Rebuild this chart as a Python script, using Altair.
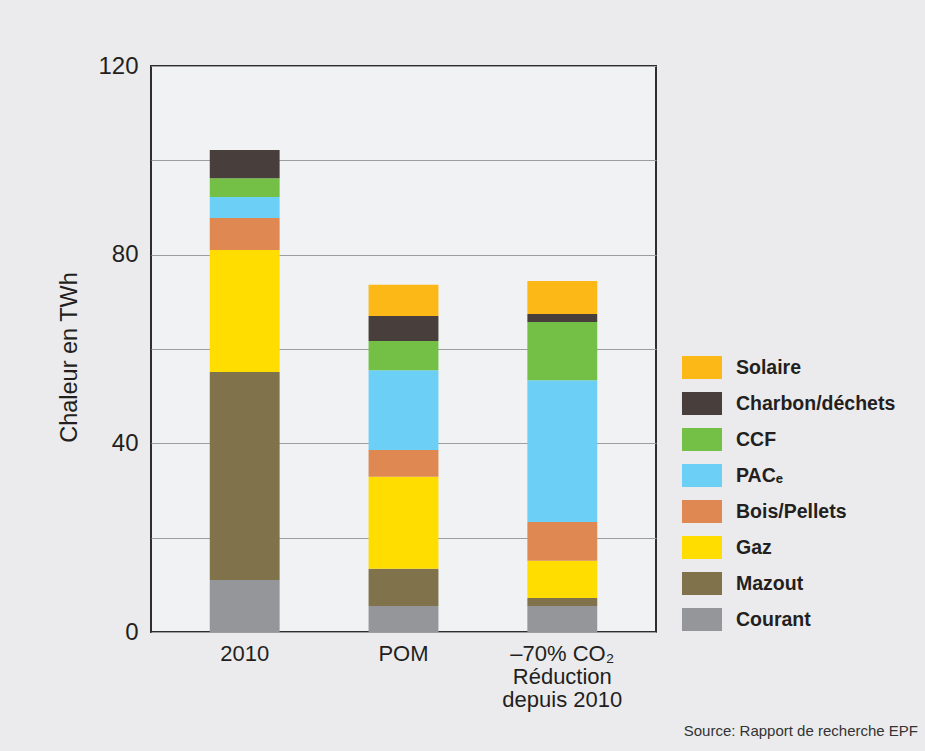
import altair as alt
import pandas as pd

# ---- data ----
categories = ["2010", "POM", "–70% CO₂|Réduction|depuis 2010"]
sources = ["Courant", "Mazout", "Gaz", "Bois/Pellets", "PACₑ", "CCF", "Charbon/déchets", "Solaire"]
colors = ["#95969A", "#80734B", "#FFDD00", "#DF8851", "#6CCFF6", "#74BF46", "#483F3D", "#FBB817"]
values_2010 = [11.0, 44.1, 25.9, 6.8, 4.4, 4.0, 6.0, 0.0]
values_pom = [5.5, 7.9, 19.5, 5.7, 16.9, 6.2, 5.3, 6.6]
values_co2 = [5.5, 1.7, 7.9, 8.2, 30.1, 12.3, 1.7, 7.0]
y_ticks = [0, 20, 40, 60, 80, 100, 120]

rows = []
for cat, vals in zip(categories, [values_2010, values_pom, values_co2]):
    for i, (s, v) in enumerate(zip(sources, vals)):
        rows.append({"cat": cat, "source": s, "value": v, "ord": i})
df = pd.DataFrame(rows)

FONT = "Liberation Sans"
TXT = "#231F20"

chart = alt.Chart(df).mark_bar().encode(
    x=alt.X("cat:N", sort=categories,
            scale=alt.Scale(paddingInner=0.56, paddingOuter=0.37),
            axis=alt.Axis(title=None, labelAngle=0, ticks=False, domain=False,
                          labelExpr="split(datum.label, '|')",
                          labelFont=FONT, labelFontSize=22, labelColor=TXT,
                          labelPadding=11, labelLineHeight=23)),
    y=alt.Y("value:Q", stack="zero",
            scale=alt.Scale(domain=[0, 120], nice=False),
            axis=alt.Axis(title="Chaleur en TWh", values=y_ticks,
                          labelExpr="datum.value % 40 === 0 ? datum.label : ''",
                          ticks=False, domain=False, grid=True,
                          gridColor="#9E9EA0", gridWidth=1.2,
                          labelFont=FONT, labelFontSize=24, labelColor=TXT,
                          labelPadding=13,
                          titleFont=FONT, titleFontSize=23.5, titleFontWeight="normal",
                          titleColor=TXT, titleX=-75, titleY=291,
                          titleBaseline="alphabetic")),
    color=alt.Color("source:N",
                    scale=alt.Scale(domain=sources[::-1], range=colors[::-1]),
                    legend=alt.Legend(title=None, orient="none",
                                      legendX=539.5, legendY=290,
                                      symbolType="M-1.74,-1H1.74V1H-1.74Z",
                                      symbolSize=529, symbolStrokeWidth=0,
                                      labelOffset=22.5, rowPadding=13,
                                      labelFont=FONT, labelFontSize=19.5,
                                      labelFontWeight="bold", labelColor=TXT,
                                      padding=0)),
    order=alt.Order("ord:Q", sort="ascending"),
).properties(
    width=505,
    height=566,
    autosize=alt.AutoSizeParams(type="none"),
    padding={"left": 151, "top": 66, "right": 269, "bottom": 119},
    background="#EBEBED",
    title=alt.TitleParams("Source: Rapport de recherche EPF", orient="bottom",
                          anchor="end", frame="group", dx=262, offset=14,
                          font=FONT, fontSize=15, fontWeight="normal",
                          color="#333333"),
).configure_view(
    fill="#F1F2F4", stroke="#2E2E2E", strokeWidth=2
)

chart.save("out.html", embed_options={"renderer": "svg", "actions": False})
